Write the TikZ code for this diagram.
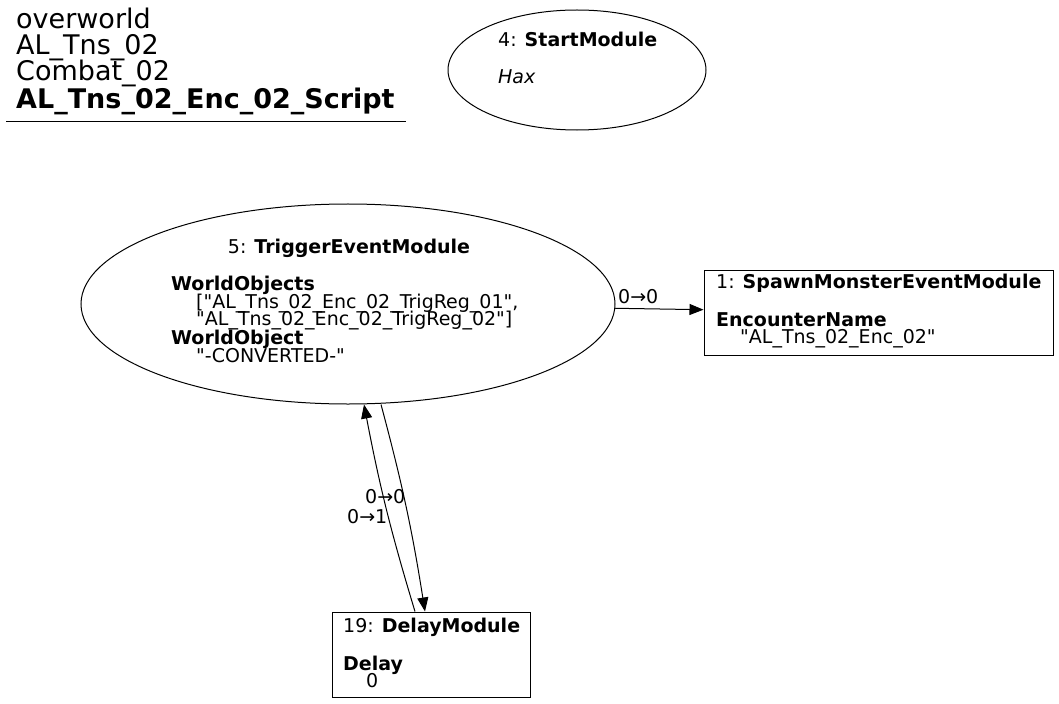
\documentclass[tikz,border=0pt]{standalone}
\usepackage{fontspec}
\setmainfont{DejaVu Sans}[Ligatures=TeXOff]
\usetikzlibrary{shapes.geometric,arrows.meta}
\newcommand{\nf}{\fontsize{19bp}{18bp}\selectfont}
\newcommand{\tf}{\fontsize{27bp}{28bp}\selectfont}
\tikzset{
  shapeell/.style={ellipse, draw, line width=1bp, inner sep=0pt},
  shapebox/.style={rectangle, draw, line width=1bp, inner sep=0pt},
  txt/.style={anchor=base west, inner sep=0pt, font=\nf},
  ttl/.style={anchor=base west, inner sep=0pt, font=\tf},
  edge/.style={line width=1bp, -{Triangle[length=14bp,width=11bp]}},
  elabel/.style={anchor=base west, inner sep=0pt, font=\nf}
}
\begin{document}
\begin{tikzpicture}[x=1bp,y=-1bp]
\useasboundingbox (0,0) rectangle (1059,704);
% title
\node[ttl] (t1) at (16,29) {overworld};
\node[ttl] (t2) at (16,55) {AL\_Tns\_02};
\node[ttl] (t3) at (16,81) {Combat\_02};
\node[ttl] (t4) at (16,109) {\textbf{AL\_Tns\_02\_Enc\_02\_Script}};
\draw[line width=1bp] (6,122) coordinate (u1) -- (406,122) coordinate (u2);
% node 4
\node[shapeell, minimum width=258bp, minimum height=120bp] (n4) at (577,70) {};
\node[txt] (n4a) at (498,47) {4: \textbf{StartModule}};
\node[txt] (n4b) at (498,84) {\itshape Hax};
% node 5
\node[shapeell, minimum width=534bp, minimum height=200bp] (n5) at (348,304) {};
\node[txt, anchor=base] (n5a) at (349,253) {5: \textbf{TriggerEventModule}};
\node[txt] (n5b) at (171,290) {\textbf{WorldObjects}};
\node[txt] (n5c) at (196,308) {["AL\_Tns\_02\_Enc\_02\_TrigReg\_01",};
\node[txt] (n5d) at (196,325) {"AL\_Tns\_02\_Enc\_02\_TrigReg\_02"]};
\node[txt] (n5e) at (171,344) {\textbf{WorldObject}};
\node[txt] (n5f) at (196,362) {"-CONVERTED-"};
% node 1
\node[shapebox, minimum width=349bp, minimum height=85bp] (n1) at (878.5,312.5) {};
\node[txt] (n1a) at (716,288) {1: \textbf{SpawnMonsterEventModule}};
\node[txt] (n1b) at (716,326) {\textbf{EncounterName}};
\node[txt] (n1c) at (740,343) {"AL\_Tns\_02\_Enc\_02"};
% node 19
\node[shapebox, minimum width=198bp, minimum height=85bp] (n19) at (431,654.5) {};
\node[txt] (n19a) at (343,632) {19: \textbf{DelayModule}};
\node[txt] (n19b) at (343,670) {\textbf{Delay}};
\node[txt] (n19c) at (366,687) {0};
% edges
\draw[edge] (n5) -- (n1);
\node[elabel] (l1) at (618,303) {0→0};
\draw[edge] ([xshift=33bp]n5.south) to[bend left=3] ([xshift=-6bp]n19.north);
\node[elabel] (l2) at (365,503) {0→0};
\draw[edge] ([xshift=-16bp]n19.north) to[bend left=3] ([xshift=16bp]n5.south);
\node[elabel] (l3) at (347,523) {0→1};
\end{tikzpicture}
\end{document}
